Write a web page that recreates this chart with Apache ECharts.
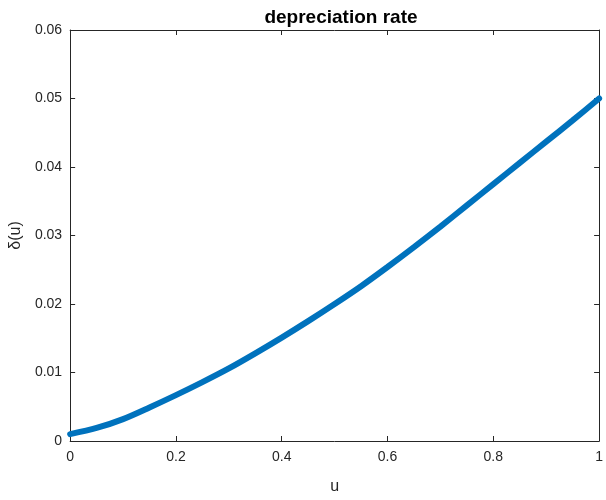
<!DOCTYPE html>
<html>
<head>
<meta charset="utf-8">
<script src="https://cdn.jsdelivr.net/npm/echarts@6/dist/echarts.min.js"></script>
<style>html,body{margin:0;padding:0;background:#fff}#c{width:606px;height:500px}</style>
</head>
<body>
<div id="c"></div>
<script>
const uValues = [0, 0.05, 0.1, 0.15, 0.2, 0.25, 0.3, 0.35, 0.4, 0.45, 0.5, 0.55, 0.6, 0.65, 0.7, 0.75, 0.8, 0.85, 0.9, 0.95, 1.0];
const deltaValues = [0.0010, 0.0019, 0.0032, 0.0049, 0.0067, 0.0086, 0.0106, 0.0128, 0.0151, 0.0175, 0.0200, 0.0226, 0.0254, 0.0283, 0.0313, 0.0344, 0.0375, 0.0406, 0.0437, 0.0468, 0.0500];
const titleText = 'depreciation rate';
const xLabel = 'u';
const yLabel = 'δ(u)';

const chart = echarts.init(document.getElementById('c'), null, {renderer: 'canvas'});
const axisColor = '#262626';
const fontFam = 'Liberation Sans, Arial, sans-serif';
const baseX = {
  type: 'value', min: 0, max: 1, interval: 0.2,
  axisLine: {show: true, onZero: false, lineStyle: {color: axisColor, width: 1}},
  axisTick: {show: true, inside: true, length: 5, lineStyle: {color: axisColor}},
  splitLine: {show: false}
};
const baseY = {
  type: 'value', min: 0, max: 0.06, interval: 0.01,
  axisLine: {show: true, onZero: false, lineStyle: {color: axisColor, width: 1}},
  axisTick: {show: true, inside: true, length: 5, lineStyle: {color: axisColor}},
  splitLine: {show: false}
};
chart.setOption({
  animation: false,
  backgroundColor: '#ffffff',
  title: {
    text: titleText, left: 336, top: 3, textAlign: 'center',
    textStyle: {fontFamily: fontFam, fontSize: 19, fontWeight: 'bold', color: '#000'}
  },
  grid: {left: 68, right: 3, top: 30, bottom: 49, containLabel: false},
  xAxis: [
    Object.assign({}, baseX, {
      position: 'bottom',
      name: xLabel, nameLocation: 'middle', nameGap: 38,
      nameTextStyle: {fontFamily: fontFam, fontSize: 16, color: axisColor},
      axisLabel: {show: true, margin: 9, fontFamily: fontFam, fontSize: 14, color: axisColor,
        formatter: v => String(+v.toFixed(1))}
    }),
    Object.assign({}, baseX, {position: 'top', axisLabel: {show: false}})
  ],
  yAxis: [
    Object.assign({}, baseY, {
      position: 'left',
      name: yLabel, nameLocation: 'middle', nameGap: 44, nameRotate: 90,
      nameTextStyle: {fontFamily: fontFam, fontSize: 16, color: axisColor},
      axisLabel: {show: true, margin: 8, fontFamily: fontFam, fontSize: 14, color: axisColor,
        formatter: v => v === 0 ? '0' : v.toFixed(2)}
    }),
    Object.assign({}, baseY, {position: 'right', axisLabel: {show: false}})
  ],
  series: [{
    type: 'line',
    data: uValues.map((u, i) => [u, deltaValues[i]]),
    smooth: 0.3,
    showSymbol: false,
    lineStyle: {color: '#0072BD', width: 6, cap: 'round'},
    clip: false
  }]
});
</script>
</body>
</html>
